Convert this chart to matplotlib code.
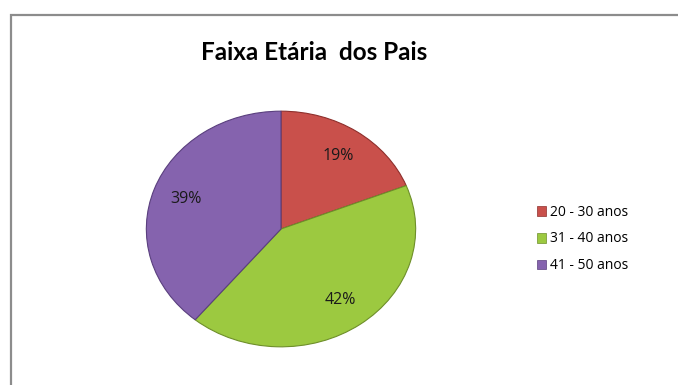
import matplotlib
matplotlib.use('Agg')
import matplotlib.pyplot as plt
from matplotlib.patches import Rectangle, Patch

# data
labels = ['20 - 30 anos', '31 - 40 anos', '41 - 50 anos']
values = [19, 42, 39]
colors = ['#C9504B', '#9CC940', '#8563AE']
edges = ['#8E2F2C', '#6E8F2A', '#5A3F7E']
title = 'Faixa Etária  dos Pais'

plt.rcParams['font.family'] = ['Open Sans', 'DejaVu Sans']

W, H = 678, 385
fig = plt.figure(figsize=(W / 100, H / 100), dpi=100)
fig.patch.set_facecolor('white')

# chart frame
fig.add_artist(Rectangle((11 / W, -0.1), 1.2, (H - 15) / H + 0.1, transform=fig.transFigure,
                         fill=False, edgecolor='#8C8C8C', linewidth=1.6))

# pie, slightly squashed like the original
cx, cy, rx, ry = 281, 229, 136, 119
ax = fig.add_axes([(cx - rx) / W, (H - cy - ry) / H, 2 * rx / W, 2 * ry / H])
wedges, texts, autotexts = ax.pie(values, colors=colors, startangle=90, counterclock=False,
                                  autopct='%1.0f%%', pctdistance=0.75,
                                  wedgeprops=dict(linewidth=0.8),
                                  textprops=dict(fontsize=11.5, color='#1a1a1a'))
for w, ec in zip(wedges, edges):
    w.set_edgecolor(ec)
ax.set_aspect('auto')
ax.set_xlim(-1.01, 1.01)
ax.set_ylim(-1.01, 1.01)
ax.axis('off')

fig.text(314 / W, 1 - 52 / H, title, ha='center', va='center', fontsize=17.5,
         fontweight='bold', family=['Lato', 'DejaVu Sans'])

handles = [Patch(facecolor=c, edgecolor=e, linewidth=0.5) for c, e in zip(colors, edges)]
fig.legend(handles, labels, loc='center left', bbox_to_anchor=(524 / W, 1 - 239 / H),
           frameon=False, fontsize=10, handlelength=0.7, handleheight=0.7,
           handletextpad=0.3, labelspacing=0.85)

plt.savefig('out.png', dpi=100, facecolor='white')
